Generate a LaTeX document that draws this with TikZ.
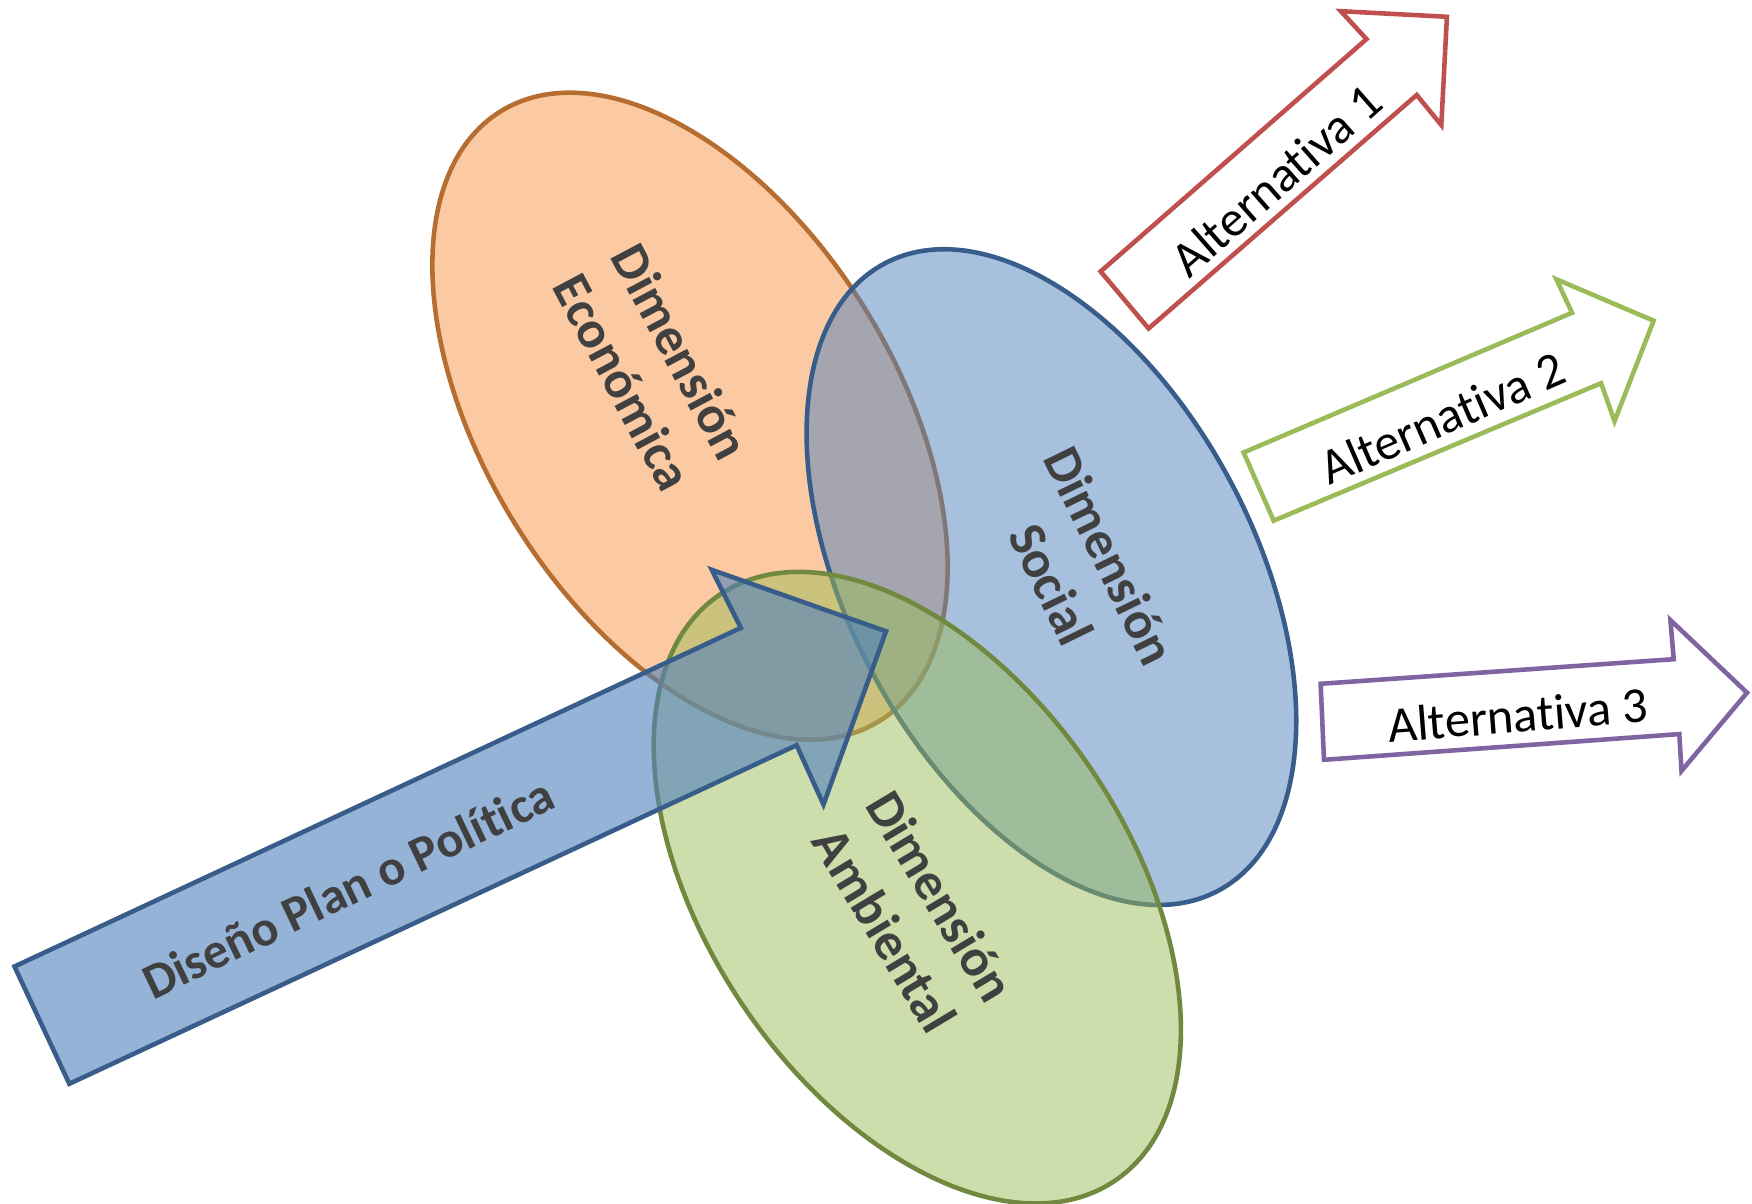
\documentclass[tikz,border=0pt]{standalone}
\usepackage{fontspec}
\setmainfont{Carlito}[Ligatures=NoCommon]
\definecolor{orfill}{HTML}{F79646}
\definecolor{ordraw}{HTML}{B66D31}
\definecolor{blfill}{HTML}{4F81BD}
\definecolor{bldraw}{HTML}{385D8A}
\definecolor{grfill}{HTML}{9BBB59}
\definecolor{grdraw}{HTML}{71893F}
\definecolor{altred}{HTML}{C0504D}
\definecolor{altgreen}{HTML}{9BBB59}
\definecolor{altpurple}{HTML}{8064A2}
\definecolor{lbl}{HTML}{404040}
\tikzset{
  dimblob/.style={line width=1.3pt, fill opacity=0.5},
  dimlabel/.style={text=lbl, font=\fontsize{15}{18.5}\selectfont\bfseries, align=center, inner sep=0pt},
  altarrow/.style={line width=1.3pt, fill=white, line join=miter},
  altlabel/.style={text=black, font=\fontsize{14.3}{17}\selectfont, inner sep=0pt},
}
\begin{document}
\begin{tikzpicture}[x=0.01cm,y=0.01cm]
\path[use as bounding box] (0,0) rectangle (1752,-1204);

% ellipses
\draw[dimblob, draw=ordraw, fill=orfill] (690,-416.2) ellipse [x radius=358.9, y radius=205.4, rotate=-58.1];
\draw[dimblob, draw=bldraw, fill=blfill] (1051.4,-577.1) ellipse [x radius=355.2, y radius=203.0, rotate=-62.0];
\draw[dimblob, draw=grdraw, fill=grfill] (917.3,-887.7) ellipse [x radius=353.4, y radius=210.4, rotate=-56.0];

% big arrow
\draw[line width=1.3pt, draw=bldraw, fill=blfill, fill opacity=0.6, line join=miter]
  (14.5,-966.5) -- (740.8,-627.9) -- (711.7,-569.8) -- (886.0,-631.3) -- (823.5,-804.5) -- (796.6,-745.2) -- (69.3,-1083.8) -- cycle;

% alternative arrows
\draw[altarrow, draw=altred]
  (1100.6,-271.5) -- (1366.5,-39.1) -- (1340.8,-11.2) -- (1446.9,-16.8) -- (1441.3,-125.1) -- (1416.7,-95.0) -- (1148.6,-328.5) -- cycle;
\draw[altarrow, draw=altgreen]
  (1243.6,-452.5) -- (1572.0,-312.8) -- (1556.4,-279.3) -- (1653.6,-320.7) -- (1614.5,-421.2) -- (1601.1,-383.2) -- (1273.7,-520.7) -- cycle;
\draw[altarrow, draw=altpurple]
  (1320.6,-683.8) -- (1673.7,-659.2) -- (1670.4,-620.1) -- (1747.0,-692.7) -- (1681.5,-770.9) -- (1679.3,-734.1) -- (1324.0,-759.8) -- cycle;

% labels
\node[dimlabel, rotate=-62] (econ) at (652,-367) {Dimensión\\Económica};
\node[dimlabel, rotate=-64] (soc) at (1081,-570) {Dimensión\\Social};
\node[dimlabel, rotate=-59] (amb) at (913,-913) {Dimensión\\Ambiental};
\node[dimlabel, font=\fontsize{14.3}{17}\selectfont\bfseries, rotate=25.5] (plan) at (348,-888) {Diseño Plan o Política};
\node[altlabel, rotate=41.3] (alt1) at (1276,-180) {Alternativa 1};
\node[altlabel, rotate=23.5] (alt2) at (1442,-418) {Alternativa 2};
\node[altlabel, rotate=4.5] (alt3) at (1518,-715) {Alternativa 3};
\end{tikzpicture}
\end{document}
